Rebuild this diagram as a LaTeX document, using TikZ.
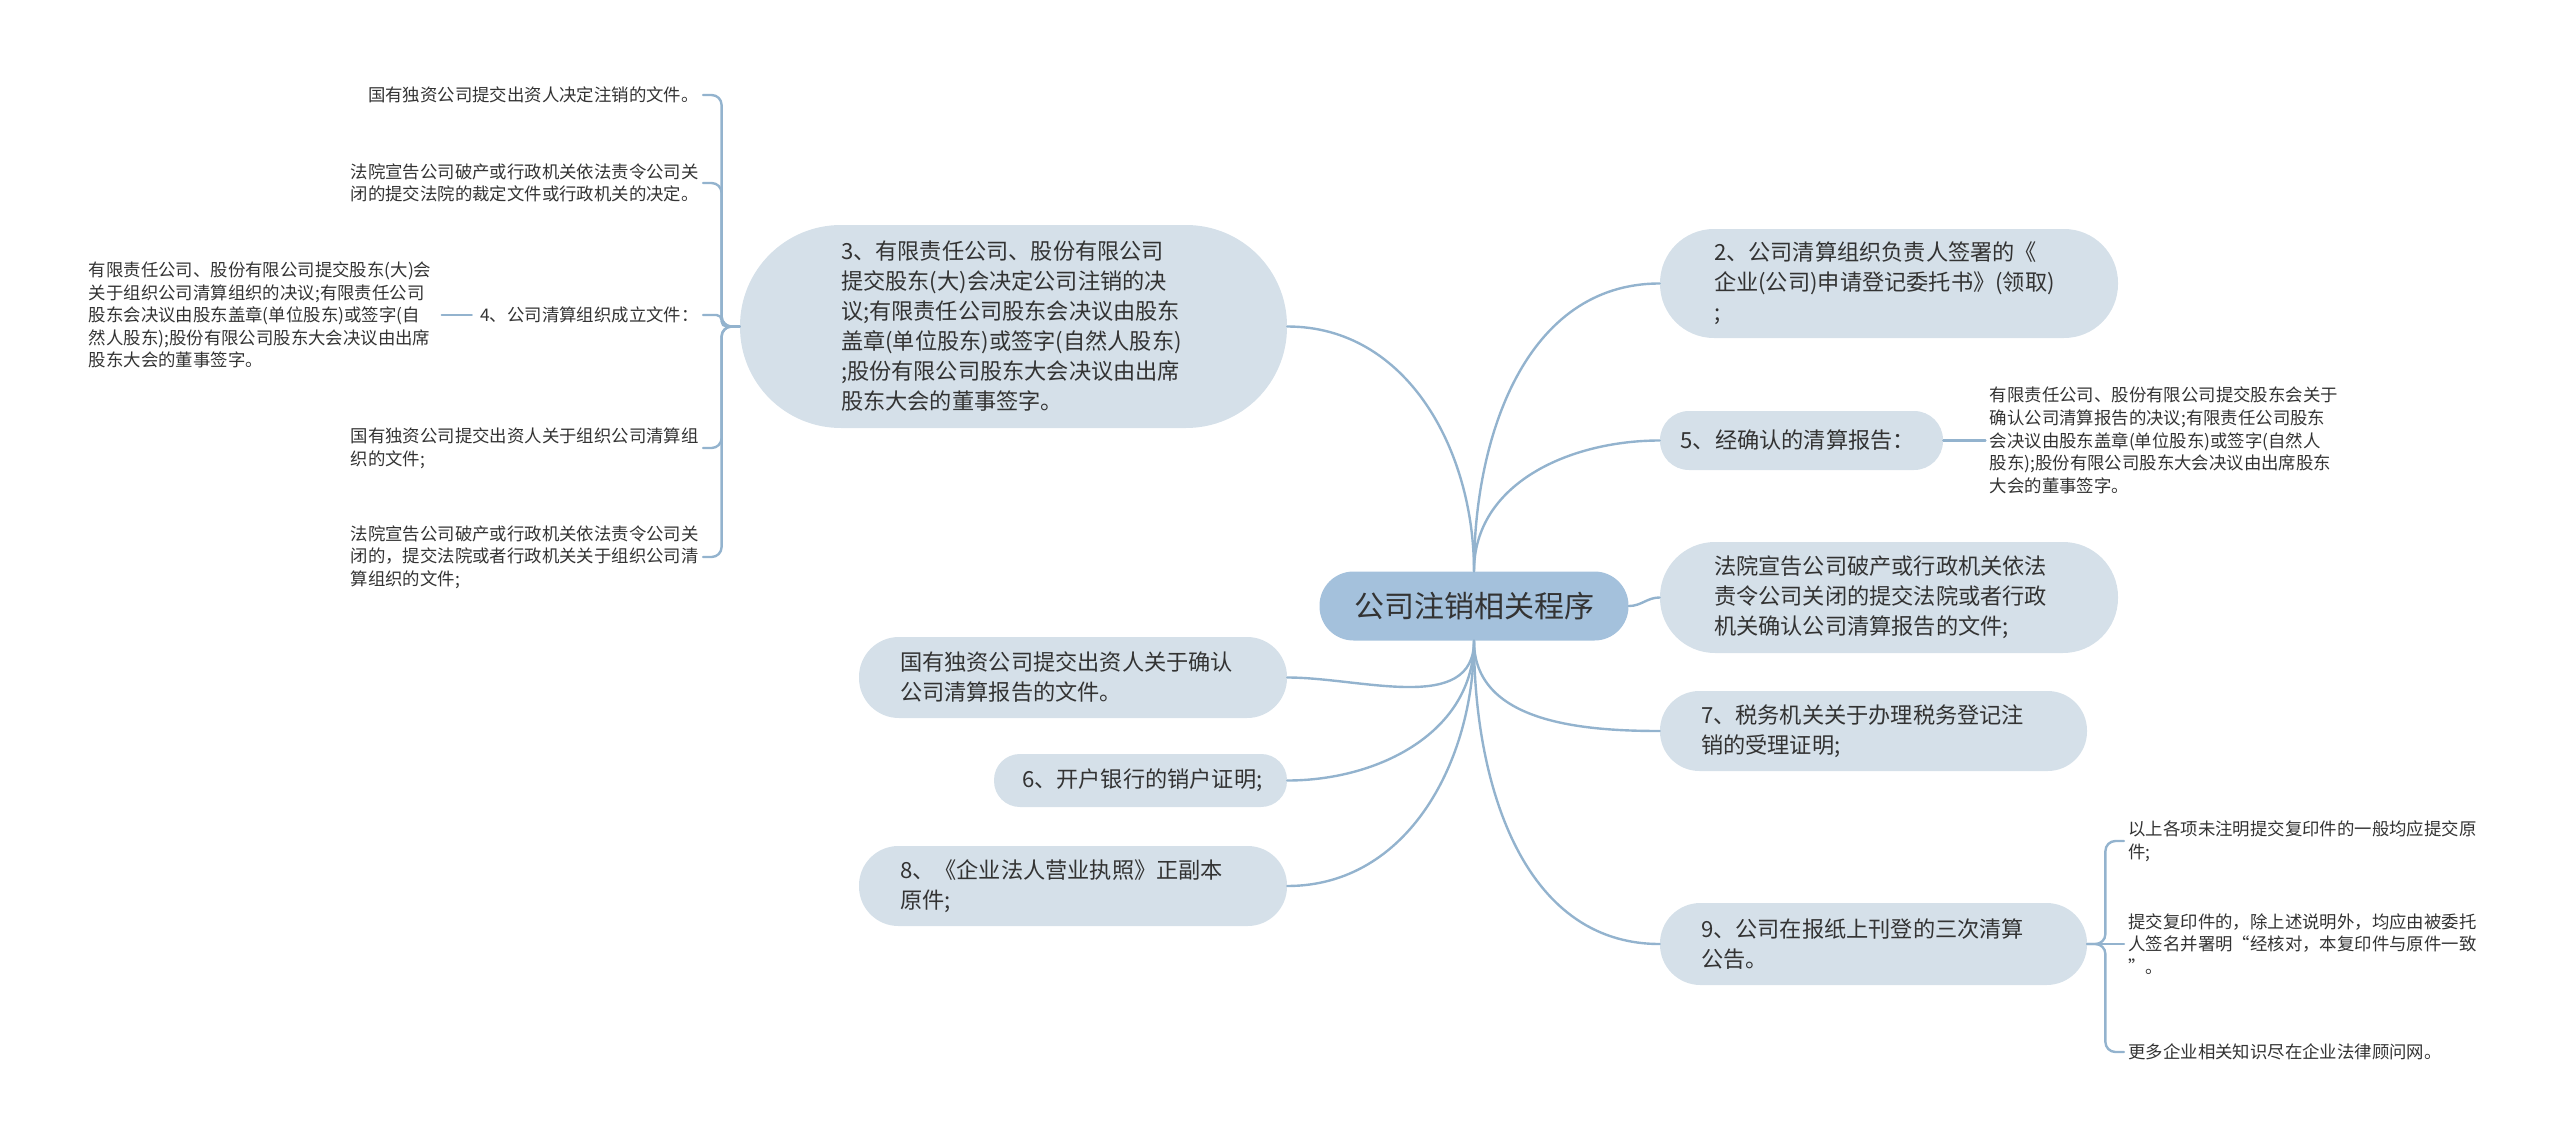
\documentclass[tikz,border=0pt]{standalone}
\usepackage{fontspec}
\setmainfont{Noto Sans CJK SC}
\usetikzlibrary{positioning}
\definecolor{boxfill}{RGB}{213,224,233}
\definecolor{rootfill}{RGB}{164,193,220}
\definecolor{linkblue}{RGB}{147,179,206}
\definecolor{textgray}{RGB}{51,51,51}
\newcommand{\rootfs}{\fontsize{15}{18}\selectfont}
\newcommand{\mainfs}{\fontsize{11.1}{15}\selectfont}
\newcommand{\leaffs}{\fontsize{8.7}{11.3}\selectfont}

\begin{document}
\begin{tikzpicture}[x=0.5pt, y=-0.5pt, line join=round, line cap=round,
  link/.style={draw=linkblue, line width=1.2pt},
  rootbox/.style={rectangle, fill=rootfill, text=textgray, font=\rootfs, inner sep=0pt, minimum width=154.5pt, minimum height=34.5pt, rounded corners=17pt},
  pill/.style n args={3}{rectangle, fill=boxfill, text=textgray, font=\mainfs, align=left, inner sep=0pt, minimum width=#1, minimum height=#2, rounded corners=#2/2-0.3pt, text width=#3},
  leaf/.style={text=textgray, font=\leaffs, align=left, inner xsep=2pt, inner ysep=1pt}]
\useasboundingbox (0,0) rectangle (2560,1145);

\node[rootbox] (root) at (1474,606) {公司注销相关程序};

\node[pill={229pt}{54.5pt}{175pt}] (regform) at (1889,283.5) {2、公司清算组织负责人签署的《\\企业(公司)申请登记委托书》(领取)\\;};
\node[pill={141.5pt}{29.5pt}{121pt}] (report) at (1801.5,440.5) {5、经确认的清算报告：};
\node[pill={229pt}{55.5pt}{175pt}] (court) at (1889,597.5) {法院宣告公司破产或行政机关依法\\责令公司关闭的提交法院或者行政\\机关确认公司清算报告的文件;};
\node[pill={213.5pt}{40pt}{172.5pt}] (tax) at (1873.5,731) {7、税务机关关于办理税务登记注\\销的受理证明;};
\node[pill={213.5pt}{41pt}{172.5pt}] (notice) at (1873.5,944) {9、公司在报纸上刊登的三次清算\\公告。};

\node[pill={273.5pt}{101.5pt}{172.5pt}] (resol) at (1013.5,326.5) {3、有限责任公司、股份有限公司\\提交股东(大)会决定公司注销的决\\议;有限责任公司股东会决议由股东\\盖章(单位股东)或签字(自然人股东)\\;股份有限公司股东大会决议由出席\\股东大会的董事签字。};
\node[pill={214pt}{40.5pt}{173pt}] (stateown) at (1073,677.5) {国有独资公司提交出资人关于确认\\公司清算报告的文件。};
\node[pill={146.5pt}{26.5pt}{118.5pt}] (bank) at (1140.5,780.5) {6、开户银行的销户证明;};
\node[pill={214pt}{40pt}{173pt}] (license) at (1073,886) {8、《企业法人营业执照》正副本\\原件;};

\node[leaf, anchor=east] (l1) at (703,95) {国有独资公司提交出资人决定注销的文件。};
\node[leaf, anchor=east] (l2) at (703,183) {法院宣告公司破产或行政机关依法责令公司关\\闭的提交法院的裁定文件或行政机关的决定。};
\node[leaf, anchor=east] (l3) at (703,315) {4、公司清算组织成立文件：};
\node[leaf, left=20pt of l3] (l3a) {有限责任公司、股份有限公司提交股东(大)会\\关于组织公司清算组织的决议;有限责任公司\\股东会决议由股东盖章(单位股东)或签字(自\\然人股东);股份有限公司股东大会决议由出席\\股东大会的董事签字。};
\node[leaf, anchor=east] (l4) at (703,448) {国有独资公司提交出资人关于组织公司清算组\\织的文件;};
\node[leaf, anchor=east] (l5) at (703,557) {法院宣告公司破产或行政机关依法责令公司关\\闭的，提交法院或者行政机关关于组织公司清\\算组织的文件;};

\node[leaf, right=21pt of report] (l6) {有限责任公司、股份有限公司提交股东会关于\\确认公司清算报告的决议;有限责任公司股东\\会决议由股东盖章(单位股东)或签字(自然人\\股东);股份有限公司股东大会决议由出席股东\\大会的董事签字。};

\node[leaf, anchor=west] (r1) at (2124,841) {以上各项未注明提交复印件的一般均应提交原\\件;};
\node[leaf, anchor=west] (r2) at (2124,944) {提交复印件的，除上述说明外，均应由被委托\\人签名并署明“经核对，本复印件与原件一致\\”。};
\node[leaf, anchor=west] (r3) at (2124,1052) {更多企业相关知识尽在企业法律顾问网。};

\draw[link] (root.north) to[out=90,in=0] (resol.east);
\draw[link] (root.north) to[out=90,in=180] (regform.west);
\draw[link] (root.north) to[out=90,in=180] (report.west);
\draw[link] (root.east) to[out=0,in=180] (court.west);
\foreach \n in {stateown,bank,license}
  \draw[link] (root.south) to[out=270,in=0] (\n.east);
\foreach \n in {tax,notice}
  \draw[link] (root.south) to[out=270,in=180] (\n.west);

\draw[link] (report.east) -- (l6.west);
\draw[link, shorten <=2pt, shorten >=3pt] (l3.west) -- (l3a.east);

\coordinate (resolfork) at ([xshift=-9pt]resol.west);
\foreach \n in {l1,l2,l4,l5}
  \draw[link, rounded corners=5pt] (resol.west) -- (resolfork) |- (\n.east);
\draw[link, rounded corners=2.5pt] (resol.west) -- (resolfork) |- (l3.east);

\coordinate (noticefork) at ([xshift=9pt]notice.east);
\foreach \n in {r1,r3}
  \draw[link, rounded corners=5pt] (notice.east) -- (noticefork) |- (\n.west);
\draw[link] (notice.east) -- (r2.west);
\end{tikzpicture}
\end{document}
